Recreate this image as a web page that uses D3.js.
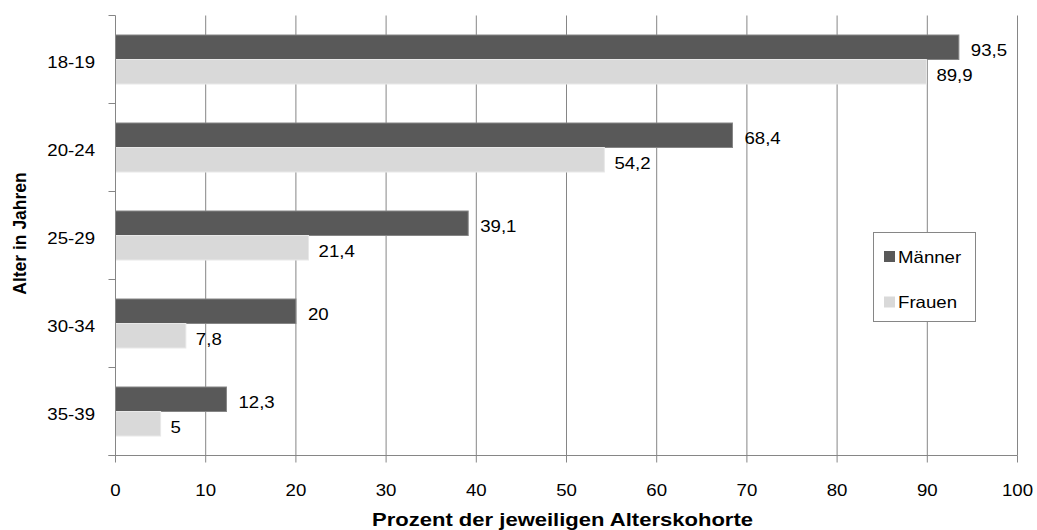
<!DOCTYPE html>
<html><head><meta charset="utf-8">
<script src="https://cdn.jsdelivr.net/npm/d3@7"></script>
<style>body{margin:0;background:#fff}svg{display:block}text{font-family:"Liberation Sans",Arial,sans-serif;fill:#000}</style>
</head><body>
<svg id="c" width="1037" height="530"></svg>
<script>
const categories = ["18-19","20-24","25-29","30-34","35-39"];
const maenner = [93.5,68.4,39.1,20,12.3];
const frauen = [89.9,54.2,21.4,7.8,5];
const seriesNames = ["Männer","Frauen"];
const xTicks = [0,10,20,30,40,50,60,70,80,90,100];
const fmt = v => String(v).replace(".", ",");

const svg = d3.select("#c");
const L = 115.5, R = 1017.5, T = 15.5, B = 455.5;
const x = d3.scaleLinear().domain([0,100]).range([L,R]);
const y = d3.scaleBand().domain(categories).range([T,B]);
const colors = ["#595959","#d9d9d9"];
const strokes = ["#858585","#e8e8e8"];
const grid = "#868686";
const SX = 1.13, FS = 16.5;

function label(parent, tx, ty, txt, anchor, opts = {}) {
  return parent.append("text")
    .attr("transform", `translate(${tx},${ty}) scale(${SX},1)`)
    .attr("text-anchor", anchor)
    .attr("font-size", opts.fs || FS)
    .attr("font-weight", opts.bold ? "bold" : null)
    .text(txt);
}

// gridlines
svg.append("g").selectAll("line").data(xTicks.slice(1)).join("line")
  .attr("x1", d=>x(d)).attr("x2", d=>x(d)).attr("y1", T).attr("y2", B)
  .attr("stroke", grid).attr("stroke-width", 1);

// bars
const barH = 24.5;
const data = categories.map((c,i)=>({c, vals:[maenner[i], frauen[i]]}));
const g = svg.append("g");
data.forEach(d=>{
  const mid = y(d.c) + y.bandwidth()/2;
  d.vals.forEach((v,j)=>{
    const y0 = mid - barH + j*barH;
    g.append("rect").attr("x", x(0)).attr("y", y0).attr("width", x(v)-x(0)).attr("height", barH)
      .attr("fill", colors[j]).attr("stroke", strokes[j]).attr("stroke-width", 1);
    label(g, x(v) + (j === 0 ? 12 : 10), y0 + barH/2 + 9, fmt(v), "start");
  });
});

// x axis
const xa = svg.append("g");
xa.append("line").attr("x1", L-7).attr("x2", R).attr("y1", B).attr("y2", B).attr("stroke", grid);
xa.selectAll("line.t").data(xTicks).join("line").attr("class","t")
  .attr("x1", d=>x(d)).attr("x2", d=>x(d)).attr("y1", B).attr("y2", B+7).attr("stroke", grid);
xTicks.forEach(t => label(xa, x(t), 496, t, "middle"));

// y axis
const ya = svg.append("g");
ya.append("line").attr("x1", L).attr("x2", L).attr("y1", T).attr("y2", B).attr("stroke", grid);
const bounds = categories.map(c=>y(c)).concat([B]);
ya.selectAll("line.t").data(bounds).join("line").attr("class","t")
  .attr("x1", L-7).attr("x2", L).attr("y1", d=>d).attr("y2", d=>d).attr("stroke", grid);
categories.forEach(c => label(ya, 95, y(c)+y.bandwidth()/2 + 8, c, "end"));

// axis titles
svg.append("text").attr("x", 372).attr("y", 526)
  .attr("font-size",18.5).attr("font-weight","bold")
  .attr("textLength", 381).attr("lengthAdjust","spacingAndGlyphs")
  .text("Prozent der jeweiligen Alterskohorte");
svg.append("text").attr("transform", `translate(26,${(T+B)/2 - 2}) rotate(-90) scale(1,1.1)`)
  .attr("text-anchor","middle")
  .attr("font-size",17.5).attr("font-weight","bold").text("Alter in Jahren");

// legend
const lg = svg.append("g");
lg.append("rect").attr("x", 873.5).attr("y", 232.5).attr("width", 102).attr("height", 89)
  .attr("fill","#fff").attr("stroke", grid);
seriesNames.forEach((n,j)=>{
  const cy = 256.5 + j*45.5;
  lg.append("rect").attr("x", 884).attr("y", cy-5.5).attr("width", 11).attr("height", 11).attr("fill", colors[j]);
  label(lg, 898, cy + 6, n, "start");
});
</script>
</body></html>
